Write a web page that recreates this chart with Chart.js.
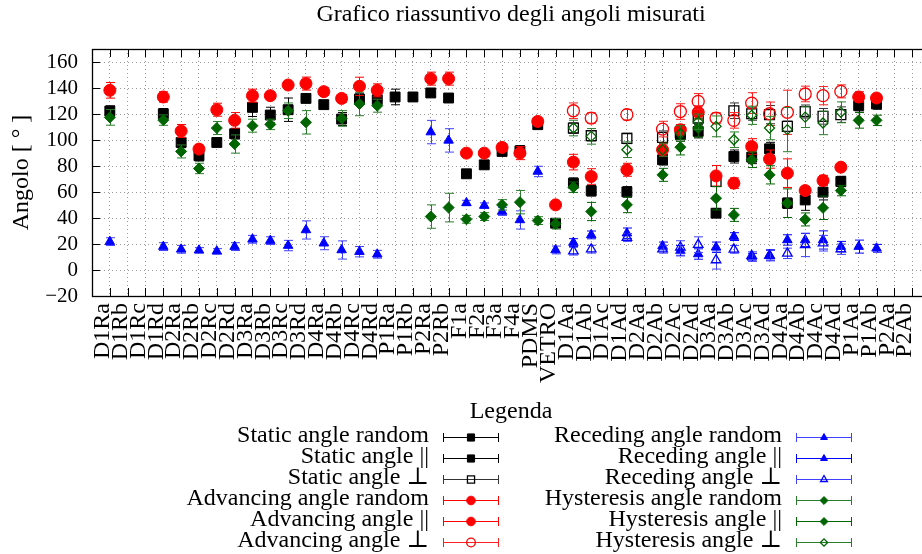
<!DOCTYPE html>
<html>
<head>
<meta charset="utf-8">
<script src="https://cdn.jsdelivr.net/npm/chart.js@4.4.1/dist/chart.umd.min.js"></script>
<style>
html, body { margin: 0; padding: 0; overflow: hidden; background: #fff; }
</style>
</head>
<body>
<canvas id="grafico" width="940" height="554"></canvas>
<script>
const _ = null;
const pad = n => Array(n).fill(null);

const categorie = ['D1Ra', 'D1Rb', 'D1Rc', 'D1Rd', 'D2Ra', 'D2Rb', 'D2Rc', 'D2Rd',
    'D3Ra', 'D3Rb', 'D3Rc', 'D3Rd', 'D4Ra', 'D4Rb', 'D4Rc', 'D4Rd',
    'P1Ra', 'P1Rb', 'P2Ra', 'P2Rb', 'F1a', 'F2a', 'F3a', 'F4a', 'PDMS', 'VETRO',
    'D1Aa', 'D1Ab', 'D1Ac', 'D1Ad', 'D2Aa', 'D2Ab', 'D2Ac', 'D2Ad',
    'D3Aa', 'D3Ab', 'D3Ac', 'D3Ad', 'D4Aa', 'D4Ab', 'D4Ac', 'D4Ad',
    'P1Aa', 'P1Ab', 'P2Aa', 'P2Ab'];

const yMin = -20, yMax = 170, yStep = 20;

// campioni "random" (D?R?, F?a, PDMS, VETRO) -> indici 0..25
const staticRandom    = [122.3,_,_,120.2,98.1,87.9,98.1,104.8,125.1,119.2,123.3,132.0,127.2,116.1,131.5,131.0,133.1,133.1,136.2,132.3,74.0,80.9,91.2,91.7,111.8,36.0, ...pad(20)];
const staticRandomErr = [4,_,_,4,4,4,3,4,7,6,9,3,3,5,4,4,6,2,3,3,2,2,3,4,2,3, ...pad(20)];
const advRandom       = [138.2,_,_,133.1,106.9,93.0,123.3,115.1,134.1,134.1,142.3,143.4,137.2,132.0,141.3,138.2,_,_,147.2,147.2,89.9,89.9,94.3,89.9,114.3,50.1, ...pad(20)];
const advRandomErr    = [6,_,_,4,5,3,5,6,5,3,2,5,3,3,7,5,_,_,5,5,2,2,2,5,2,1, ...pad(20)];
const recRandom       = [21.8,_,_,18.0,15.9,15.2,14.4,18.0,23.6,22.6,18.8,30.8,20.6,15.4,14.1,12.1,_,_,106.1,99.7,51.6,49.6,45.0,38.5,75.8,15.4, ...pad(20)];
const recRandomErr    = [3,_,_,3,3,2,2,3,3,3,4,7,5,7,4,3,_,_,9,9,2,2,3,7,4,3, ...pad(20)];
const istRandom       = [117.4,_,_,115.3,91.2,78.1,109.2,96.9,111.0,112.0,122.5,113.6,_,116.6,127.7,126.4,_,_,41.1,48.0,39.0,41.1,50.1,52.2,38.0,35.5, ...pad(20)];
const istRandomErr    = [6,_,_,4,5,4,5,7,5,4,6,9,_,6,9,5,_,_,9,11,3,3,4,9,3,4, ...pad(20)];

// campioni anisotropi, direzione parallela -> indici 26..45
const staticPar    = [...pad(26), 66.8,60.9,_,60.1,_,84.8,104.0,106.6,43.7,87.3,86.8,93.2,51.4,53.9,59.9,68.1,126.4,127.7,_,_];
const staticParErr = [...pad(26), 4,4,_,4,_,4,5,5,3,5,5,5,4,8,6,4,5,4,_,_];
const advPar       = [...pad(26), 83.0,71.9,_,77.1,_,92.5,107.9,121.3,72.4,66.8,95.0,85.3,74.5,61.1,68.8,79.1,133.1,132.3,_,_];
const advParErr    = [...pad(26), 6,6,_,5,_,5,4,5,8,4,6,7,11,3,4,2,4,2,_,_];
const recPar       = [...pad(26), 21.1,27.0,_,28.3,_,18.5,14.9,12.3,17.5,25.7,9.8,11.6,23.1,23.1,23.1,18.0,18.0,16.7,_,_];
const recParErr    = [...pad(26), 3,3,_,4,_,3,4,4,4,3,3,4,4,5,7,4,5,3,_,_];
const istPar       = [...pad(26), 63.7,45.0,_,50.1,_,73.2,94.5,109.2,55.2,42.4,84.8,73.2,51.4,38.9,47.8,61.1,115.1,115.1,_,_];
const istParErr    = [...pad(26), 4,7,_,6,_,5,6,7,9,5,6,7,11,5,9,4,6,4,_,_];

// direzione perpendicolare
const staticPerp    = [...pad(26), 109.2,103.3,_,101.2,_,102.0,106.0,116.9,68.1,122.5,120.2,119.5,110.5,121.9,118.2,119.5,_,_,_,_];
const staticPerpErr = [...pad(26), 4,4,_,4,_,5,4,5,4,6,5,7,4,5,6,6,_,_,_,_];
const advPerp       = [...pad(26), 122.5,116.9,_,119.5,_,108.4,121.9,129.7,116.9,115.1,128.4,120.2,121.3,135.4,134.1,137.4,_,_,_,_];
const advPerpErr    = [...pad(26), 6,4,_,4,_,6,6,6,4,6,8,9,17,6,7,5,_,_,_,_];
const recPerp       = [...pad(26), 14.5,16.0,_,25.0,_,16.0,17.5,19.5,7.7,15.9,11.0,11.0,12.8,19.3,20.6,16.0,_,_,_,_];
const recPerpErr    = [...pad(26), 3,3,_,3,_,3,5,6,7,3,3,4,4,9,6,4,_,_,_,_];
const istPerp       = [...pad(26), 109.2,102.8,_,92.5,_,92.5,105.0,114.0,110.5,100.2,119.0,109.2,108.0,117.6,113.1,121.3,_,_,_,_];
const istPerpErr    = [...pad(26), 6,6,_,6,_,5,6,6,8,6,7,9,17,8,9,8,_,_,_,_];

const FONT = '"Liberation Serif", "DejaVu Serif", serif';
Chart.defaults.font.family = FONT;
Chart.defaults.color = '#000';

function serie(label, values, errors, color, errColor, style, radius, open, order) {
    return {
        label: label,
        data: values.map((v, i) => v === null ? null : {x: i, y: v, err: errors[i]}).filter(p => p !== null),
        pointStyle: style,
        pointRadius: radius,
        pointHoverRadius: radius,
        pointBorderWidth: open ? 1.3 : 1,
        borderColor: color,
        backgroundColor: open ? 'rgba(0,0,0,0)' : color,
        errColor: errColor,
        showLine: false,
        order: order
    };
}

const datasets = [
    serie('Static angle random', staticRandom, staticRandomErr, '#000', '#000', 'rect', 7, false, 12),
    serie('Static angle ||', staticPar, staticParErr, '#000', '#000', 'rect', 7, false, 11),
    serie('Static angle \u22A5', staticPerp, staticPerpErr, '#000', '#333', 'rect', 7, true, 10),
    serie('Advancing angle random', advRandom, advRandomErr, '#ff0000', '#ff0000', 'circle', 6, false, 9),
    serie('Advancing angle ||', advPar, advParErr, '#ff0000', '#ff0000', 'circle', 6, false, 8),
    serie('Advancing angle \u22A5', advPerp, advPerpErr, '#ff0000', '#ff2020', 'circle', 6, true, 7),
    serie('Receding angle random', recRandom, recRandomErr, '#0000ff', '#4040ff', 'triangle', 5.5, false, 6),
    serie('Receding angle ||', recPar, recParErr, '#0000ff', '#0000ff', 'triangle', 5.5, false, 5),
    serie('Receding angle \u22A5', recPerp, recPerpErr, '#0000ff', '#4040ff', 'triangle', 5.5, true, 4),
    serie('Hysteresis angle random', istRandom, istRandomErr, '#006400', '#2a7d2a', 'rectRot', 5.5, false, 3),
    serie('Hysteresis angle ||', istPar, istParErr, '#006400', '#006400', 'rectRot', 5.5, false, 2),
    serie('Hysteresis angle \u22A5', istPerp, istPerpErr, '#006400', '#2a7d2a', 'rectRot', 5, true, 1)
];

function drawMarker(ctx, ds, x, y, r) {
    ctx.fillStyle = ds.backgroundColor;
    ctx.strokeStyle = ds.borderColor;
    ctx.lineWidth = ds.pointBorderWidth;
    Chart.helpers.drawPoint(ctx, {pointStyle: ds.pointStyle, radius: r, borderWidth: ds.pointBorderWidth, rotation: 0}, x, y);
}

const extraPlugin = {
    id: 'extra',
    beforeDatasetsDraw(chart) {
        const {ctx, chartArea: a, scales} = chart;
        ctx.save();
        ctx.strokeStyle = '#000';
        ctx.lineWidth = 1;
        ctx.beginPath();
        scales.x.ticks.forEach(t => {
            if (t.value < 0 || t.value >= categorie.length) return;
            const px = Math.round(scales.x.getPixelForValue(t.value)) + 0.5;
            ctx.moveTo(px, a.bottom); ctx.lineTo(px, a.bottom - 8);
            ctx.moveTo(px, a.top); ctx.lineTo(px, a.top + 8);
        });
        scales.y.ticks.forEach(t => {
            const py = Math.round(scales.y.getPixelForValue(t.value)) + 0.5;
            ctx.moveTo(a.left, py); ctx.lineTo(a.left + 8, py);
            ctx.moveTo(a.right, py); ctx.lineTo(a.right - 8, py);
        });
        ctx.stroke();
        ctx.lineWidth = 1.3;
        ctx.strokeRect(Math.round(a.left) + 0.5, Math.round(a.top) + 0.5,
            Math.round(a.right - a.left), Math.round(a.bottom - a.top));
        ctx.restore();
    },
    beforeDatasetDraw(chart, args) {
        const ds = chart.data.datasets[args.index];
        const y = chart.scales.y;
        const ctx = chart.ctx;
        ctx.save();
        ctx.strokeStyle = ds.errColor;
        ctx.lineWidth = 1;
        ctx.beginPath();
        args.meta.data.forEach((pt, j) => {
            const d = ds.data[j];
            const x = Math.round(pt.x) + 0.5;
            const top = y.getPixelForValue(d.y + d.err);
            const bot = y.getPixelForValue(d.y - d.err);
            ctx.moveTo(x, top); ctx.lineTo(x, bot);
            ctx.moveTo(x - 4.5, top); ctx.lineTo(x + 4.5, top);
            ctx.moveTo(x - 4.5, bot); ctx.lineTo(x + 4.5, bot);
        });
        ctx.stroke();
        ctx.restore();
    },
    afterDraw(chart) {
        const {ctx, chartArea: a} = chart;
        const cx = (a.left + a.right) / 2;
        ctx.save();
        ctx.font = '24px ' + FONT;
        ctx.fillStyle = '#000';
        ctx.textBaseline = 'middle';
        ctx.textAlign = 'center';
        ctx.fillText('Legenda', cx, 412);
        const colonne = [cx - 82, cx + 271];
        chart.data.datasets.forEach((ds, i) => {
            const col = Math.floor(i / 6), row = i % 6;
            const xr = colonne[col];
            const yy = 437 + row * 21;
            ctx.textAlign = 'right';
            ctx.fillStyle = '#000';
            ctx.fillText(ds.label, xr, yy - 1);
            const x0 = xr + 14, x1 = xr + 70;
            ctx.strokeStyle = ds.errColor;
            ctx.lineWidth = 1;
            ctx.beginPath();
            ctx.moveTo(x0, yy + 0.5); ctx.lineTo(x1, yy + 0.5);
            ctx.moveTo(x0 + 0.5, yy - 4); ctx.lineTo(x0 + 0.5, yy + 5);
            ctx.moveTo(x1 - 0.5, yy - 4); ctx.lineTo(x1 - 0.5, yy + 5);
            ctx.stroke();
            drawMarker(ctx, ds, xr + 42, yy + 0.5, ds.pointRadius * 0.72);
        });
        ctx.restore();
    }
};

new Chart(document.getElementById('grafico'), {
    type: 'scatter',
    data: {datasets: datasets},
    plugins: [extraPlugin],
    options: {
        responsive: false,
        animation: false,
        events: [],
        layout: {padding: {left: 0, right: 10, top: 0, bottom: 0}},
        plugins: {
            legend: {display: false},
            tooltip: {enabled: false},
            title: {
                display: true,
                fullSize: false,
                text: 'Grafico riassuntivo degli angoli misurati',
                color: '#000',
                font: {size: 24, weight: 'normal', lineHeight: 1.1},
                padding: {top: 2, bottom: 20.6}
            }
        },
        scales: {
            x: {
                type: 'linear',
                min: -1,
                max: categorie.length,
                grid: {color: '#9a9a9a', lineWidth: 1, drawTicks: false},
                border: {display: false, dash: [1, 3]},
                ticks: {
                    stepSize: 1,
                    autoSkip: false,
                    maxRotation: 90,
                    minRotation: 90,
                    labelOffset: -7,
                    padding: 7,
                    color: '#000',
                    font: {size: 24},
                    callback: v => categorie[Math.round(v)] || ''
                },
                afterFit: s => { s.height = 258; s.paddingLeft = 0; s.paddingRight = 0; }
            },
            y: {
                type: 'linear',
                min: yMin,
                max: yMax,
                grid: {color: '#9a9a9a', lineWidth: 1, drawTicks: false},
                border: {display: false, dash: [1, 3]},
                ticks: {
                    stepSize: yStep,
                    autoSkip: false,
                    includeBounds: false,
                    padding: 14,
                    color: '#000',
                    font: {size: 21},
                    callback: v => v < 0 ? '\u2212' + Math.abs(v) : String(v)
                },
                title: {
                    display: true,
                    text: 'Angolo [ \u00B0 ]',
                    color: '#000',
                    font: {size: 24},
                    padding: {top: 7, bottom: 0}
                },
                afterFit: s => { s.width = 92; s.paddingTop = 0; s.paddingBottom = 0; }
            }
        }
    }
});
</script>
</body>
</html>
